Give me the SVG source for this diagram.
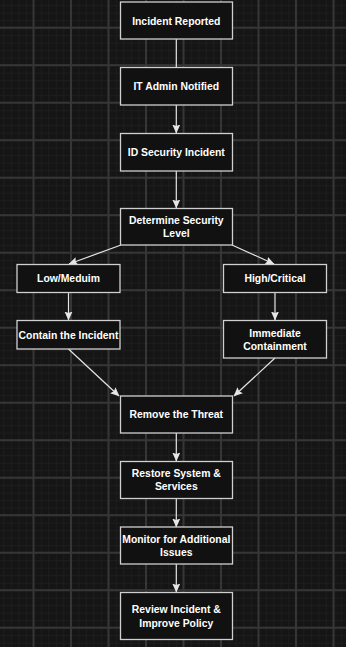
<svg xmlns="http://www.w3.org/2000/svg" width="346" height="647" viewBox="0 0 346 647">
<style>
.node rect{fill:#111111;stroke:#d0d0d0;stroke-width:1.3}
.node text{fill:#ffffff;font-family:"Liberation Sans",Arial,sans-serif;font-weight:bold;font-size:10.4px;text-anchor:middle}
.edge{fill:none;stroke:#e6e6e6;stroke-width:1.2}
</style>
<defs>
<pattern id="minor" patternUnits="userSpaceOnUse" x="3.3" y="5.2" width="7.5" height="7.5">
<rect x="0" y="0" width="1" height="7.5" fill="#1d1d1d"/>
<rect x="0" y="0" width="7.5" height="1" fill="#1d1d1d"/>
</pattern>
<pattern id="major" patternUnits="userSpaceOnUse" x="32.5" y="26.7" width="37.5" height="37.5">
<rect x="0" y="0" width="2" height="37.5" fill="#363636"/>
<rect x="0" y="0" width="37.5" height="2" fill="#363636"/>
</pattern>
<marker id="arrow" markerUnits="userSpaceOnUse" markerWidth="9" markerHeight="9" viewBox="0 0 9 9" refX="8.5" refY="4.5" orient="auto">
<path d="M0,0.5 L9,4.5 L0,8.5 L1.5,4.5 z" fill="#e6e6e6"/>
</marker>
</defs>
<rect width="346" height="647" fill="#151515"/>
<rect width="346" height="647" fill="url(#minor)"/>
<rect width="346" height="647" fill="url(#major)"/>
<g id="connectors">
<line class="edge" x1="176.3" y1="39" x2="176.3" y2="67"/>
<line class="edge" x1="176.3" y1="105" x2="176.3" y2="133" marker-end="url(#arrow)"/>
<line class="edge" x1="176.3" y1="171" x2="176.3" y2="208" marker-end="url(#arrow)"/>
<line class="edge" x1="121" y1="245" x2="69" y2="264" marker-end="url(#arrow)"/>
<line class="edge" x1="232" y1="245" x2="274" y2="264" marker-end="url(#arrow)"/>
<line class="edge" x1="68.5" y1="292" x2="68.5" y2="320" marker-end="url(#arrow)"/>
<line class="edge" x1="275" y1="292" x2="275" y2="320" marker-end="url(#arrow)"/>
<line class="edge" x1="68.5" y1="349" x2="119" y2="396" marker-end="url(#arrow)"/>
<line class="edge" x1="275" y1="358" x2="234" y2="396" marker-end="url(#arrow)"/>
<line class="edge" x1="176.3" y1="433" x2="176.3" y2="461" marker-end="url(#arrow)"/>
<line class="edge" x1="176.3" y1="498" x2="176.3" y2="527" marker-end="url(#arrow)"/>
<line class="edge" x1="176.3" y1="564" x2="176.3" y2="592" marker-end="url(#arrow)"/>
</g>
<g id="n1" class="node"><rect x="120.5" y="2" width="112" height="37"/><text x="176.3" y="24.5">Incident Reported</text></g>
<g id="n2" class="node"><rect x="120.5" y="67.5" width="112" height="37.5"/><text x="176.3" y="90">IT Admin Notified</text></g>
<g id="n3" class="node"><rect x="120.5" y="133.5" width="112" height="37.5"/><text x="176.3" y="156">ID Security Incident</text></g>
<g id="n4" class="node"><rect x="120.5" y="208.5" width="112" height="36.5"/><text x="176.3" y="223.7">Determine Security</text><text x="176.3" y="236.9">Level</text></g>
<g id="n5" class="node"><rect x="17" y="264.5" width="103" height="28"/><text x="68.5" y="282.3">Low/Meduim</text></g>
<g id="n6" class="node"><rect x="17" y="320.5" width="103" height="28.5"/><text x="68.5" y="338.5">Contain the Incident</text></g>
<g id="n7" class="node"><rect x="223.5" y="264.5" width="103" height="28"/><text x="275" y="282.3">High/Critical</text></g>
<g id="n8" class="node"><rect x="223.5" y="320.5" width="103" height="37.5"/><text x="275" y="337">Immediate</text><text x="275" y="349.7">Containment</text></g>
<g id="n9" class="node"><rect x="120.5" y="396" width="112" height="37"/><text x="176.3" y="418">Remove the Threat</text></g>
<g id="n10" class="node"><rect x="120.5" y="461.5" width="112" height="37"/><text x="176.3" y="477">Restore System &amp;</text><text x="176.3" y="489.7">Services</text></g>
<g id="n11" class="node"><rect x="120.5" y="527" width="112" height="37"/><text x="176.3" y="543">Monitor for Additional</text><text x="176.3" y="556">Issues</text></g>
<g id="n12" class="node"><rect x="120.5" y="592.5" width="112" height="47"/><text x="176.3" y="613">Review Incident &amp;</text><text x="176.3" y="627">Improve Policy</text></g>
</svg>
